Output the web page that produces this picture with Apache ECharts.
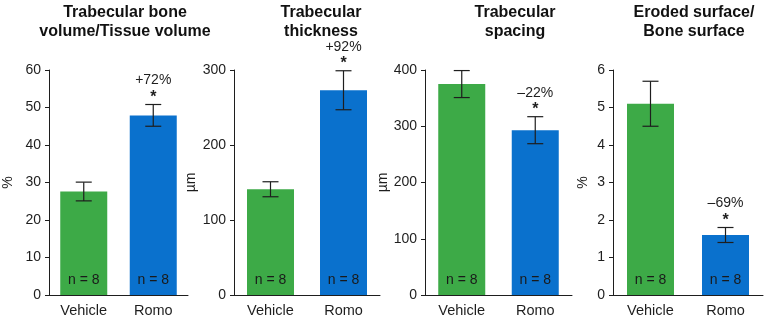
<!DOCTYPE html>
<html>
<head>
<meta charset="utf-8">
<script src="https://cdn.jsdelivr.net/npm/echarts@6/dist/echarts.min.js"></script>
<style>
  html, body { margin: 0; padding: 0; background: #fff; }
  #chart { width: 764px; height: 318px; }
</style>
</head>
<body>
<div id="chart"></div>
<script>
// 数据
const categories = ['Vehicle', 'Romo']
const nLabels = ['n = 8', 'n = 8']
const barColors = ['#3daa47', '#0a71cd']

const titles = [
  'Trabecular bone\nvolume/Tissue volume',
  'Trabecular\nthickness',
  'Trabecular\nspacing',
  'Eroded surface/\nBone surface'
]
const units = ['%', 'µm', 'µm', '%']

const bvtvMean = [27.6, 47.9]
const bvtvErr = [2.5, 2.9]
const tbthMean = [141, 273]
const tbthErr = [10, 26]
const tbspMean = [375, 293]
const tbspErr = [24, 24]
const esbsMean = [5.1, 1.6]
const esbsErr = [0.6, 0.2]

const changes = [
  ['', '+72%'],
  ['', '+92%'],
  ['', '–22%'],
  ['', '–69%']
]
const stars = [['', '*'], ['', '*'], ['', '*'], ['', '*']]

const yMax = [60, 300, 400, 6]
const yInterval = [10, 100, 100, 1]

const panels = [
  { mean: bvtvMean, err: bvtvErr },
  { mean: tbthMean, err: tbthErr },
  { mean: tbspMean, err: tbspErr },
  { mean: esbsMean, err: esbsErr }
]

// 布局
const gridLeft = [44, 234, 425, 613]
const gridWidth = [144, 146, 147, 150]
const titleCenter = [120, 316, 510, 689]
const nameGap = [34, 36, 33, 23]

const font = 'Arial, "Liberation Sans", sans-serif'
const ink = '#1e1e1e'

const chart = echarts.init(document.getElementById('chart'))

const grid = []
const xAxis = []
const yAxis = []
const series = []
const title = []

panels.forEach((p, i) => {
  grid.push({ left: gridLeft[i], width: gridWidth[i], top: 70, height: 225 })

  title.push({
    text: titles[i],
    left: titleCenter[i],
    top: -2,
    textAlign: 'center',
    textStyle: { fontFamily: font, fontSize: 16, fontWeight: 'bold', color: '#111', lineHeight: 19 }
  })

  xAxis.push({
    type: 'category',
    gridIndex: i,
    data: categories,
    axisLine: { lineStyle: { color: ink, width: 1 } },
    axisTick: { show: false },
    axisLabel: { fontFamily: font, fontSize: 14.5, color: ink, margin: 8 }
  })

  yAxis.push({
    type: 'value',
    gridIndex: i,
    min: 0,
    max: yMax[i],
    interval: yInterval[i],
    name: units[i],
    nameLocation: 'middle',
    nameGap: nameGap[i],
    nameRotate: 90,
    nameTextStyle: { fontFamily: font, fontSize: 14, color: ink },
    splitLine: { show: false },
    axisLine: { show: true, lineStyle: { color: ink, width: 1 } },
    axisTick: { show: true, length: 4, lineStyle: { color: ink } },
    axisLabel: { fontFamily: font, fontSize: 14, color: ink, margin: 8 }
  })

  // 柱子
  series.push({
    type: 'bar',
    xAxisIndex: i,
    yAxisIndex: i,
    barWidth: 47,
    data: p.mean.map((v, k) => ({
      value: v,
      itemStyle: { color: barColors[k] },
      label: { formatter: nLabels[k] }
    })),
    label: {
      show: true,
      position: 'insideBottom',
      distance: 8,
      fontFamily: font,
      fontSize: 14,
      color: '#1a1a1a'
    },
    silent: true
  })

  // 误差线 + 注释
  series.push({
    type: 'custom',
    xAxisIndex: i,
    yAxisIndex: i,
    silent: true,
    z: 5,
    data: p.mean.map((v, k) => [k, v - p.err[k], v + p.err[k]]),
    renderItem: (params, api) => {
      const k = api.value(0)
      const top = api.coord([k, api.value(2)])
      const bot = api.coord([k, api.value(1)])
      const half = 8
      const style = { stroke: ink, lineWidth: 1.2 }
      const children = [
        { type: 'line', shape: { x1: top[0], y1: top[1], x2: bot[0], y2: bot[1] }, style },
        { type: 'line', shape: { x1: top[0] - half, y1: top[1], x2: top[0] + half, y2: top[1] }, style },
        { type: 'line', shape: { x1: bot[0] - half, y1: bot[1], x2: bot[0] + half, y2: bot[1] }, style }
      ]
      if (stars[i][k]) {
        children.push({
          type: 'text',
          style: {
            text: stars[i][k], x: top[0], y: top[1] + 1,
            align: 'center', verticalAlign: 'bottom',
            font: 'bold 16px ' + font, fill: ink
          }
        })
      }
      if (changes[i][k]) {
        children.push({
          type: 'text',
          style: {
            text: changes[i][k], x: top[0], y: top[1] - 17,
            align: 'center', verticalAlign: 'bottom',
            font: '14px ' + font, fill: ink
          }
        })
      }
      return { type: 'group', children }
    }
  })
})

const option = {
  animation: false,
  backgroundColor: '#fff',
  title,
  grid,
  xAxis,
  yAxis,
  series
}

chart.setOption(option)
</script>
</body>
</html>
